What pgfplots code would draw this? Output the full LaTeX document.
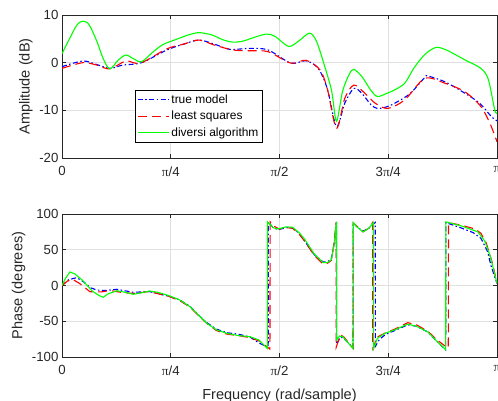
\documentclass[border=0pt]{standalone}
\usepackage{fontspec}
\setmainfont{Liberation Sans}
\newfontfamily\pifont{Liberation Serif}
\usepackage{pgfplots}
\pgfplotsset{compat=1.18}
\definecolor{axgray}{gray}{0.15}
\definecolor{gridgray}{gray}{0.88}
\newcommand{\PI}{{\pifont π}}
\pgfplotsset{
  myaxis/.style={
    scale only axis, width=435bp, height=143bp,
    xmin=0, xmax=1,
    xtick={0,0.25,0.5,0.75,1},
    xticklabels={0,\PI/4,\PI/2,3\PI/4,\PI},
    tick align=inside, major tick length=4bp,
    axis line style={axgray, line width=0.6bp},
    tick style={axgray, line width=0.6bp},
    grid=major, major grid style={gridgray, line width=0.6bp},
    ticklabel style={font=\fontsize{13.3}{15}\selectfont, text=axgray},
    xticklabel style={yshift=-5bp},
    label style={font=\fontsize{14.6}{16}\selectfont, text=axgray},
  },
  ltrue/.style={blue, line width=1.1bp, dash pattern=on 5bp off 2.5bp on 1.5bp off 2.5bp},
  lls/.style={red, line width=1.1bp, dash pattern=on 9bp off 5bp},
  ldiv/.style={green, line width=1.1bp},
}
\begin{document}
\begin{tikzpicture}
\path[use as bounding box] (0,0) rectangle (498bp,-401bp);
\begin{axis}[myaxis, at={(62bp,-158bp)}, anchor=south west,
  ymin=-20, ymax=10, ytick={-20,-10,0,10}, yticklabels={-20,-10,0,10},
  ylabel={Amplitude (dB)},
  ylabel style={at={(axis description cs:-0.083,0.5)}, anchor=center, rotate=0},
  legend cell align=left,
  legend style={at={(axis description cs:0.168,0.4755)}, anchor=north west,
    font=\fontsize{12}{14}\selectfont, draw=black, line width=0.5bp, fill=white,
    inner xsep=2bp, inner ysep=2.5bp, row sep=2.2bp,
    nodes={inner xsep=2bp}},
  legend image code/.code={\draw[#1] (0bp,0bp) -- (31bp,0bp);},
]
\addplot[ltrue, smooth] coordinates {
(0,-0.85) (0.048,0.35) (0.08,-0.4) (0.110,-1.2) (0.14,-0.5) (0.183,0.0) (0.241,2.66) (0.28,3.9) (0.315,4.75) (0.35,3.9) (0.386,2.8) (0.432,3.0) (0.474,2.66) (0.526,-0.1) (0.561,0.4) (0.589,-1.2) (0.61,-5.5) (0.631,-13.4) (0.65,-8.5) (0.671,-5.4) (0.69,-6.5) (0.71,-8.8) (0.725,-9.6) (0.745,-9.3) (0.765,-8.5) (0.8,-6.5) (0.834,-3.1) (0.841,-2.8) (0.88,-4.0) (0.926,-6.4) (0.96,-8.5) (0.987,-11.3) (1,-12.2)
};
\addlegendentry{true model}
\addplot[lls, smooth] coordinates {
(0,-1.2) (0.048,0.0) (0.08,-0.5) (0.110,-1.3) (0.147,0.35) (0.18,-0.1) (0.241,2.9) (0.28,3.9) (0.315,4.75) (0.35,3.7) (0.393,2.66) (0.432,2.5) (0.474,2.3) (0.526,-0.1) (0.561,0.5) (0.593,-1.5) (0.61,-5.5) (0.631,-13.8) (0.65,-7.5) (0.671,-4.7) (0.696,-6.4) (0.72,-8.5) (0.749,-9.6) (0.788,-7.8) (0.834,-3.3) (0.88,-4.3) (0.926,-6.1) (0.963,-9.2) (0.985,-13) (1,-16.6)
};
\addlegendentry{least squares}
\addplot[ldiv, smooth] coordinates {
(0,1.9) (0.02,5.5) (0.035,8.0) (0.048,8.7) (0.062,8.0) (0.08,4.5) (0.095,0.8) (0.110,-1.3) (0.13,0.6) (0.147,1.6) (0.165,0.8) (0.183,0.2) (0.21,2.3) (0.232,3.8) (0.26,4.8) (0.29,5.8) (0.315,6.3) (0.345,5.8) (0.37,4.8) (0.393,4.3) (0.415,4.5) (0.432,5.0) (0.469,6.0) (0.49,5.5) (0.521,3.4) (0.545,4.6) (0.569,6.2) (0.585,4.5) (0.604,-0.8) (0.62,-6) (0.631,-12.3) (0.645,-6) (0.66,-2.5) (0.671,-1.4) (0.69,-3) (0.71,-5.8) (0.725,-7.1) (0.745,-6.5) (0.765,-5.7) (0.788,-4.3) (0.81,-1.0) (0.835,1.8) (0.860,3.2) (0.885,2.6) (0.926,0.6) (0.963,-1.2) (0.98,-3.5) (0.995,-10.0) (1,-10.5)
};
\addlegendentry{diversi algorithm}
\end{axis}
\begin{axis}[myaxis, at={(62bp,-357bp)}, anchor=south west,
  ymin=-100, ymax=100, ytick={-100,-50,0,50,100}, yticklabels={-100,-50,0,50,100},
  ylabel={Phase (degrees)},
  ylabel style={at={(axis description cs:-0.1,0.5)}, anchor=center, rotate=0},
  xlabel={Frequency (rad/sample)},
  xlabel style={at={(axis description cs:0.5,0)}, anchor=base, yshift=-42bp},
]
\addplot[ltrue] coordinates {
(0,0) (0.015,8) (0.0338,11) (0.05,5) (0.065,-3) (0.0798,-6.3) (0.1,-7) (0.126,-5.3) (0.164,-9.5) (0.201,-8.5) (0.245,-15) (0.27,-20) (0.294,-29) (0.315,-42) (0.333,-52) (0.355,-61) (0.379,-66) (0.405,-68) (0.432,-72) (0.452,-80) (0.474,-87) (0.4745,89) (0.485,81) (0.497,78) (0.515,81) (0.53,80.5) (0.545,73) (0.558,62) (0.58,43) (0.6,33) (0.61,33) (0.619,37) (0.626,60) (0.631,89) (0.6315,-82) (0.64,-72) (0.648,-74) (0.669,-87) (0.6695,88) (0.678,82) (0.692,76) (0.705,80) (0.72,88) (0.7205,-85) (0.73,-75) (0.745,-68) (0.765,-63) (0.795,-55) (0.815,-57) (0.841,-65) (0.862,-78) (0.882,-90) (0.8825,88) (0.92,80) (0.945,74) (0.963,66) (0.978,48) (0.987,26) (1,3)
};
\addplot[lls] coordinates {
(0,0) (0.012,6) (0.0246,8.6) (0.04,3) (0.0644,-8.7) (0.09,-9) (0.11,-7) (0.14,-10) (0.164,-11) (0.2,-8.5) (0.245,-15) (0.27,-21) (0.294,-30) (0.315,-43) (0.333,-53) (0.355,-63) (0.379,-68) (0.405,-70) (0.432,-73) (0.455,-78) (0.478,-89) (0.4785,89) (0.49,82) (0.5,79) (0.515,81) (0.53,80) (0.545,72) (0.558,62) (0.58,42) (0.6,30) (0.61,31) (0.619,35) (0.626,62) (0.630,88) (0.6305,-86) (0.64,-69) (0.648,-72) (0.669,-88) (0.6695,87) (0.678,83) (0.692,75) (0.705,80) (0.714,88) (0.7145,-88) (0.725,-72) (0.745,-66) (0.765,-61) (0.795,-52) (0.815,-55) (0.841,-64) (0.862,-76) (0.888,-88) (0.8885,88) (0.92,84) (0.95,79) (0.963,73) (0.975,60) (0.99,30) (1,3)
};
\addplot[ldiv] coordinates {
(0,0) (0.008,10) (0.0184,19) (0.03,16) (0.0476,7) (0.07,-8) (0.085,-14) (0.0949,-16.5) (0.105,-12) (0.126,-7.3) (0.145,-9.5) (0.164,-12.3) (0.185,-10) (0.201,-7.7) (0.22,-9.5) (0.245,-14) (0.27,-20) (0.294,-29.6) (0.315,-42) (0.333,-52.9) (0.355,-62) (0.379,-66.9) (0.405,-70) (0.432,-71.6) (0.452,-76) (0.472,-88) (0.4725,89) (0.485,81) (0.497,79) (0.515,82) (0.53,81.5) (0.545,74) (0.558,64.6) (0.58,44) (0.6,32) (0.61,32) (0.619,36) (0.625,55) (0.631,89) (0.6315,-76) (0.638,-70.6) (0.646,-72) (0.669,-88) (0.6695,88) (0.678,82) (0.692,75) (0.705,80) (0.716,88) (0.7165,-88) (0.725,-74) (0.742,-67) (0.765,-62) (0.795,-54) (0.815,-57) (0.841,-65) (0.862,-78) (0.882,-90) (0.8825,89) (0.92,83) (0.956,75) (0.972,62) (0.985,40) (1,3)
};
\end{axis}
\end{tikzpicture}
\end{document}
